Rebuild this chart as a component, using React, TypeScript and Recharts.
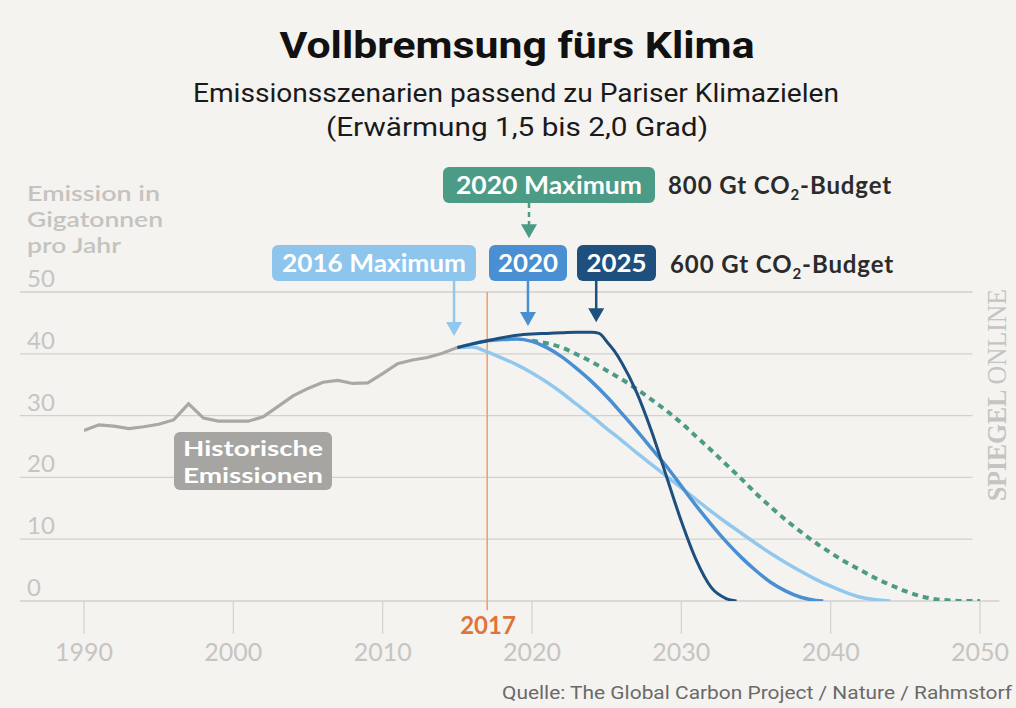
import { LineChart, Line, XAxis, YAxis, ReferenceLine } from "recharts";

// historische Emissionen (Gt CO2 / Jahr)
const histYears = [1990, 1991, 1992, 1993, 1994, 1995, 1996, 1997, 1998, 1999, 2000, 2001, 2002, 2003, 2004, 2005, 2006, 2007, 2008, 2009, 2010, 2011, 2012, 2013, 2014, 2015];
const histValues = [27.6, 28.5, 28.3, 27.9, 28.2, 28.6, 29.3, 31.9, 29.6, 29.1, 29.1, 29.1, 29.8, 31.5, 33.2, 34.4, 35.4, 35.7, 35.2, 35.3, 36.8, 38.4, 39.0, 39.4, 40.1, 41.0];

// Szenarien: [Jahr, Emission]
const peak2016 = [[2015, 41.0], [2016, 41.1], [2017, 40.3], [2018, 39.3], [2019, 38.2], [2020, 36.9], [2021, 35.4], [2022, 33.7], [2023, 31.8], [2024, 29.9], [2025, 27.9], [2026, 26.0], [2027, 24.0], [2028, 22.1], [2029, 20.2], [2030, 18.3], [2031, 16.4], [2032, 14.5], [2033, 12.7], [2034, 11.0], [2035, 9.3], [2036, 7.7], [2037, 6.2], [2038, 4.8], [2039, 3.5], [2040, 2.4], [2041, 1.4], [2042, 0.6], [2043, 0.2], [2044, 0]];
const peak2020 = [[2015, 41.0], [2016, 41.6], [2017, 42.1], [2018, 42.3], [2019, 42.4], [2020, 42.0], [2021, 41.0], [2022, 39.5], [2023, 37.6], [2024, 35.5], [2025, 33.1], [2026, 30.4], [2027, 27.6], [2028, 24.7], [2029, 21.8], [2030, 18.6], [2031, 15.4], [2032, 12.4], [2033, 9.6], [2034, 7.1], [2035, 4.9], [2036, 3.0], [2037, 1.6], [2038, 0.6], [2039, 0.1], [2039.5, 0]];
const peak2025 = [[2015, 41.0], [2016, 41.6], [2017, 42.1], [2018, 42.6], [2019, 43.0], [2020, 43.2], [2021, 43.3], [2022, 43.4], [2023, 43.5], [2024, 43.5], [2024.5, 43.3], [2025, 42.0], [2025.5, 40.5], [2026, 38.6], [2027, 33.8], [2028, 27.5], [2029, 20.2], [2030, 12.9], [2031, 6.6], [2032, 2.2], [2033, 0.4], [2033.7, 0]];
const budget800 = [[2020, 42.1], [2021, 41.7], [2022, 41.0], [2023, 39.9], [2024, 38.7], [2025, 37.3], [2026, 35.9], [2027, 34.3], [2028, 32.6], [2029, 30.8], [2030, 28.8], [2031, 26.6], [2032, 24.4], [2033, 22.1], [2034, 19.8], [2035, 17.4], [2036, 15.2], [2037, 13.1], [2038, 11.2], [2039, 9.4], [2040, 7.8], [2041, 6.3], [2042, 5.0], [2043, 3.7], [2044, 2.6], [2045, 1.6], [2046, 0.8], [2047, 0.3], [2048, 0.1], [2049, 0], [2050, 0]];

const xTicks = [1990, 2000, 2010, 2020, 2030, 2040, 2050];
const yTicks = [0, 10, 20, 30, 40, 50];

const histData = histYears.map((year, i) => ({ year, v: histValues[i] }));
const toPoints = (pairs: number[][]) => pairs.map(([year, v]) => ({ year, v }));

const GRID = "#d2d1ce";
const SANS = "Lato, 'Open Sans', sans-serif";
const COND = "Roboto, 'Open Sans', sans-serif";

const arrow = (color: string, dashed?: boolean) => (props: any) => {
  const { x1, y1, x2, y2 } = props;
  const top = Math.min(y1, y2);
  const tip = Math.max(y1, y2);
  return (
    <g>
      <line
        x1={x1}
        y1={top}
        x2={x2}
        y2={tip - 12}
        stroke={color}
        strokeWidth={2.5}
        strokeDasharray={dashed ? "5 4" : undefined}
      />
      <polygon points={`${x2 - 8},${tip - 14} ${x2 + 8},${tip - 14} ${x2},${tip}`} fill={color} />
    </g>
  );
};

const YTick = ({ y, payload }: any) => (
  <text x={27} y={y - 5} fill="#c6c5c1" fontSize={24} fontFamily={SANS} textAnchor="start">
    {payload.value}
  </text>
);

function Box({ x, y, w, h, fill, label, tl }: any) {
  return (
    <g>
      <rect x={x} y={y} width={w} height={h} rx={6} fill={fill} />
      <text
        x={x + w / 2}
        y={y + h / 2 + 8.5}
        textAnchor="middle"
        fill="#fff"
        fontSize={24}
        fontWeight={700}
        fontFamily={SANS}
        textLength={tl}
        lengthAdjust="spacingAndGlyphs"
      >
        {label}
      </text>
    </g>
  );
}

function Budget({ x, y, amount }: any) {
  return (
    <text x={x} y={y} fill="#2b2b2b" fontSize={24} fontWeight={700} fontFamily={SANS} letterSpacing={0.9}>
      {amount} Gt CO
      <tspan fontSize={15} dy={6}>2</tspan>
      <tspan dy={-6}>-Budget</tspan>
    </text>
  );
}

const fit = (len: number) => ({ textLength: len, lengthAdjust: "spacingAndGlyphs" as const });

export default function App() {
  return (
    <div style={{ position: "absolute", left: 0, top: 0, width: 1016, height: 708, background: "#f4f3f0", overflow: "hidden" }}>
      <LineChart width={1016} height={708} margin={{ top: 292, right: 36, bottom: 106, left: 83 }}>
        <XAxis
          dataKey="year"
          type="number"
          domain={[1990, 2050]}
          ticks={xTicks}
          height={1}
          axisLine={false}
          tickSize={33}
          tickMargin={9}
          interval={0}
          tickLine={{ stroke: GRID, strokeWidth: 1.2 }}
          tick={{ fill: "#c6c5c1", fontSize: 25, fontFamily: SANS }}
          allowDataOverflow
        />
        <YAxis
          type="number"
          domain={[0, 50]}
          ticks={yTicks}
          width={1}
          interval={0}
          axisLine={false}
          tickLine={false}
          tick={<YTick />}
          allowDataOverflow
        />

        {yTicks.map((t) => (
          <ReferenceLine
            key={t}
            segment={[{ x: 1985.7, y: t }, { x: t === 0 ? 2051.3 : 2049.5, y: t }]}
            stroke={GRID}
            strokeWidth={1.3}
            ifOverflow="visible"
          />
        ))}
        <ReferenceLine segment={[{ x: 2017, y: 50 }, { x: 2017, y: -1.5 }]} stroke="#eca46a" strokeWidth={1.6} ifOverflow="visible" />

        <Line data={histData} dataKey="v" type="linear" stroke="#a9a8a5" strokeWidth={3.2} dot={false} isAnimationActive={false} />
        <Line data={toPoints(budget800)} dataKey="v" type="monotone" stroke="#4c9b87" strokeWidth={4} strokeDasharray="6 5" dot={false} isAnimationActive={false} />
        <Line data={toPoints(peak2016)} dataKey="v" type="monotone" stroke="#93c8ee" strokeWidth={3.5} dot={false} isAnimationActive={false} />
        <Line data={toPoints(peak2020)} dataKey="v" type="monotone" stroke="#4a8fd2" strokeWidth={3.5} dot={false} isAnimationActive={false} />
        <Line data={toPoints(peak2025)} dataKey="v" type="monotone" stroke="#1d4f7f" strokeWidth={3} dot={false} isAnimationActive={false} />

        <ReferenceLine segment={[{ x: 2014.78, y: 51.8 }, { x: 2014.78, y: 42.9 }]} ifOverflow="visible" shape={arrow("#93c8ee")} />
        <ReferenceLine segment={[{ x: 2019.73, y: 51.8 }, { x: 2019.73, y: 44.5 }]} ifOverflow="visible" shape={arrow("#4a8fd2")} />
        <ReferenceLine segment={[{ x: 2024.3, y: 51.8 }, { x: 2024.3, y: 45.1 }]} ifOverflow="visible" shape={arrow("#1d4f7f")} />
        <ReferenceLine segment={[{ x: 2019.8, y: 64.4 }, { x: 2019.8, y: 58.7 }]} ifOverflow="visible" shape={arrow("#4c9b87", true)} />
      </LineChart>

      <svg width={1016} height={708} style={{ position: "absolute", left: 0, top: 0, pointerEvents: "none" }}>
        <text x={517} y={58} textAnchor="middle" fill="#111" fontSize={36} fontWeight={700} fontFamily={COND} {...fit(475)}>
          Vollbremsung fürs Klima
        </text>
        <text x={516} y={102} textAnchor="middle" fill="#1a1a1a" fontSize={26} fontFamily={COND} {...fit(646)}>
          Emissionsszenarien passend zu Pariser Klimazielen
        </text>
        <text x={517} y={136} textAnchor="middle" fill="#1a1a1a" fontSize={26} fontFamily={COND} {...fit(382)}>
          (Erwärmung 1,5 bis 2,0 Grad)
        </text>

        <g fill="#c4c3bf" fontSize={21} fontWeight={600} fontFamily={SANS}>
          <text x={27} y={201} {...fit(133)}>Emission in</text>
          <text x={27} y={227} {...fit(136)}>Gigatonnen</text>
          <text x={27} y={253} {...fit(94)}>pro Jahr</text>
        </g>

        <Box x={443} y={167} w={212} h={36} fill="#4c9b87" label="2020 Maximum" tl={186} />
        <Budget x={668} y={194} amount="800" />
        <Box x={272} y={245} w={204} h={36} fill="#8ec5ec" label="2016 Maximum" tl={184} />
        <Box x={489} y={245} w={78} h={36} fill="#4a8fd2" label="2020" tl={60} />
        <Box x={577} y={245} w={79} h={36} fill="#1e4f7d" label="2025" tl={60} />
        <Budget x={670} y={273} amount="600" />

        <rect x={174} y={432} width={158} height={58} rx={6} fill="#a6a5a2" />
        <g fill="#fff" fontSize={21} fontWeight={700} fontFamily={SANS} textAnchor="middle">
          <text x={253} y={456} {...fit(140)}>Historische</text>
          <text x={253} y={483} {...fit(140)}>Emissionen</text>
        </g>

        <text x={488} y={634} textAnchor="middle" fill="#e0733a" fontSize={24} fontWeight={700} fontFamily={SANS}>
          2017
        </text>

        <text x={1012} y={699} textAnchor="end" fill="#6a6a6a" fontSize={19} fontFamily={COND} {...fit(510)}>
          Quelle: The Global Carbon Project / Nature / Rahmstorf
        </text>

        <text
          transform="translate(1006 395) rotate(-90)"
          textAnchor="middle"
          fill="#c5c4c1"
          fontSize={27}
          fontFamily="'Liberation Serif', 'DejaVu Serif', serif"
          {...fit(212)}
        >
          <tspan fontWeight={700}>SPIEGEL </tspan>
          <tspan>ONLINE</tspan>
        </text>
      </svg>
    </div>
  );
}
